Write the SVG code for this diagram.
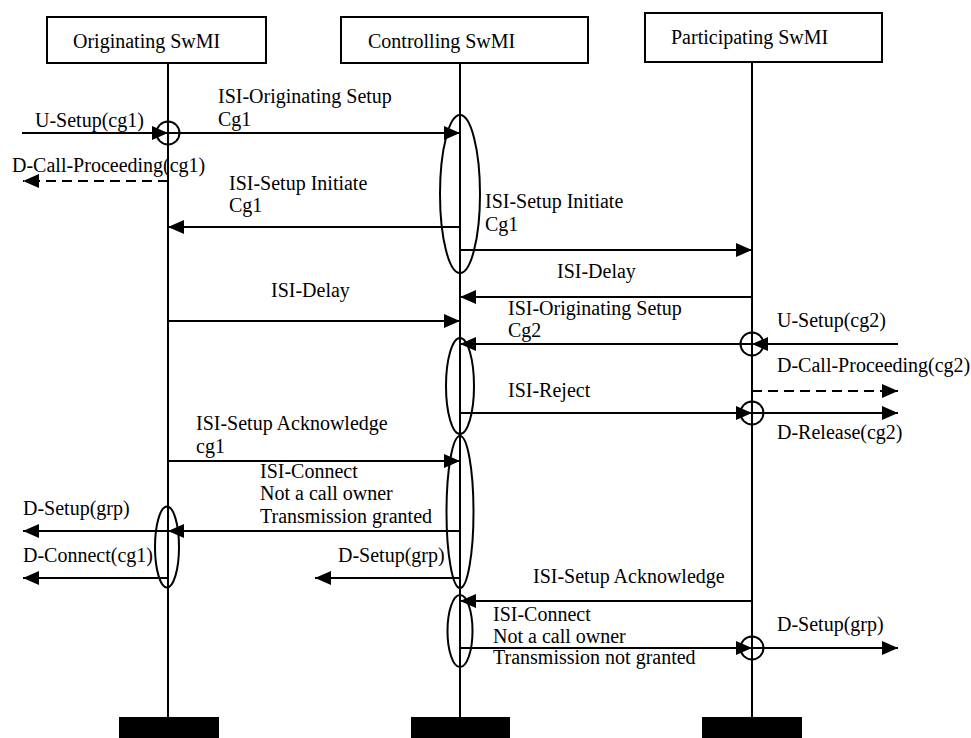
<svg xmlns="http://www.w3.org/2000/svg" width="971" height="738" viewBox="0 0 971 738">
<style>
.box{fill:#fff;stroke:#000;stroke-width:2}
.life{stroke:#000;stroke-width:2;fill:none}
.bar{fill:#000}
.msg{stroke:#000;stroke-width:2;fill:none;marker-end:url(#ah)}
.dash{stroke-dasharray:10 6}
.ov{fill:none;stroke:#000;stroke-width:2}
text{font-family:"Liberation Serif","Times New Roman",serif;font-size:20px;fill:#000}
</style>
<defs>
<marker id="ah" viewBox="0 0 16 14" refX="16" refY="7" markerWidth="16" markerHeight="14" markerUnits="userSpaceOnUse" orient="auto"><path d="M0,0 L16,7 L0,14 z" fill="#000"/></marker>
</defs>
<rect width="971" height="738" fill="#fff"/>
<g id="originating">
<rect class="box" x="47" y="17" width="219" height="46"/>
<text x="73" y="48">Originating SwMI</text>
<line class="life" x1="168" y1="63" x2="168" y2="718"/>
<rect class="bar" x="119" y="717" width="100" height="21"/>
</g>
<g id="controlling">
<rect class="box" x="341" y="17" width="247" height="46"/>
<text x="368" y="48">Controlling SwMI</text>
<line class="life" x1="460" y1="63" x2="460" y2="718"/>
<rect class="bar" x="411" y="717" width="99" height="21"/>
</g>
<g id="participating">
<rect class="box" x="645" y="13" width="237" height="49"/>
<text x="671" y="44">Participating SwMI</text>
<line class="life" x1="752" y1="62" x2="752" y2="718"/>
<rect class="bar" x="702" y="717" width="100" height="21"/>
</g>
<g id="markers">
<ellipse class="ov" cx="460" cy="194" rx="20" ry="79"/>
<ellipse class="ov" cx="460" cy="386" rx="14" ry="48"/>
<ellipse class="ov" cx="460" cy="512" rx="13.5" ry="76"/>
<ellipse class="ov" cx="460" cy="631" rx="12.5" ry="36"/>
<ellipse class="ov" cx="167" cy="547" rx="12" ry="40.5"/>
<circle class="ov" cx="168" cy="133" r="11.5"/>
<circle class="ov" cx="752" cy="344" r="11.5"/>
<circle class="ov" cx="752" cy="413" r="11.5"/>
<circle class="ov" cx="752" cy="648" r="11.5"/>
</g>
<g id="connectors">
<path class="msg" d="M22,133 H168"/>
<path class="msg" d="M168,133 H460"/>
<path class="msg dash" d="M168,181 H23"/>
<path class="msg" d="M460,227 H168"/>
<path class="msg" d="M460,250 H752"/>
<path class="msg" d="M752,297 H460"/>
<path class="msg" d="M168,321 H460"/>
<path class="msg" d="M752,344 H460"/>
<path class="msg" d="M898,344 H752"/>
<path class="msg dash" d="M752,391 H898"/>
<path class="msg" d="M460,413 H752"/>
<path class="msg" d="M752,413 H898"/>
<path class="msg" d="M168,461 H460"/>
<path class="msg" d="M460,531 H168"/>
<path class="msg" d="M168,531 H23"/>
<path class="msg" d="M168,578 H23"/>
<path class="msg" d="M460,578 H315"/>
<path class="msg" d="M752,601 H460"/>
<path class="msg" d="M460,648 H752"/>
<path class="msg" d="M752,648 H898"/>
</g>
<g id="labels">
<text x="35" y="127">U-Setup(cg1)</text>
<text x="218" y="103">ISI-Originating Setup</text>
<text x="218" y="126">Cg1</text>
<text x="12" y="172">D-Call-Proceeding(cg1)</text>
<text x="229" y="190">ISI-Setup Initiate</text>
<text x="229" y="212">Cg1</text>
<text x="485" y="208">ISI-Setup Initiate</text>
<text x="485" y="231">Cg1</text>
<text x="557" y="278">ISI-Delay</text>
<text x="271" y="297">ISI-Delay</text>
<text x="508" y="315">ISI-Originating Setup</text>
<text x="508" y="337">Cg2</text>
<text x="777" y="327">U-Setup(cg2)</text>
<text x="777" y="372">D-Call-Proceeding(cg2)</text>
<text x="508" y="397">ISI-Reject</text>
<text x="777" y="439">D-Release(cg2)</text>
<text x="196" y="430">ISI-Setup Acknowledge</text>
<text x="196" y="453">cg1</text>
<text x="260" y="478">ISI-Connect</text>
<text x="260" y="500">Not a call owner</text>
<text x="260" y="523">Transmission granted</text>
<text x="23" y="515">D-Setup(grp)</text>
<text x="23" y="562">D-Connect(cg1)</text>
<text x="338" y="562">D-Setup(grp)</text>
<text x="533" y="583">ISI-Setup Acknowledge</text>
<text x="493" y="621">ISI-Connect</text>
<text x="493" y="643">Not a call owner</text>
<text x="493" y="664">Transmission not granted</text>
<text x="777" y="631">D-Setup(grp)</text>
</g>
</svg>
